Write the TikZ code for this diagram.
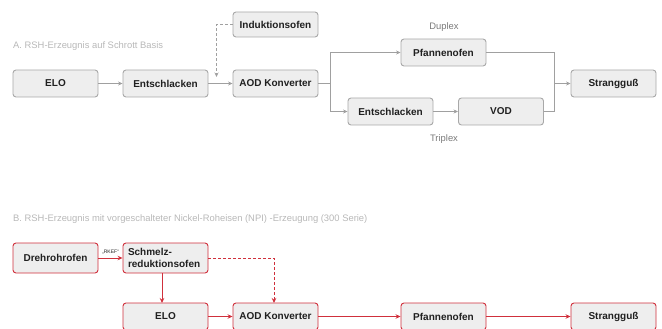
\documentclass[tikz,border=0pt]{standalone}
\usepackage{fontspec}
\setmainfont{Liberation Sans}
\usetikzlibrary{arrows.meta}
\definecolor{boxfill}{HTML}{EEEEEE}
\definecolor{boxgray}{HTML}{A8A8A8}
\definecolor{linegray}{HTML}{A0A0A0}
\definecolor{redline}{HTML}{D0303C}
\definecolor{captiongray}{HTML}{B8B8B8}
\definecolor{labelgray}{HTML}{7A7A7A}
\definecolor{txt}{HTML}{202020}
\tikzset{
  gbox/.style={draw=boxgray, fill=boxfill, rounded corners=3pt, line width=0.9pt,
    minimum width=85pt, minimum height=27pt, inner sep=0pt,
    font=\fontsize{10}{12}\selectfont\bfseries, text=txt},
  rbox/.style={gbox, draw=redline},
  garr/.style={draw=linegray, line width=0.9pt, -{Stealth[length=4.5pt,width=4pt]}},
  gline/.style={draw=linegray, line width=0.9pt},
  rarr/.style={draw=redline, line width=1pt, -{Stealth[length=5pt,width=4.5pt]}},
  rline/.style={draw=redline, line width=1pt},
  caption/.style={font=\fontsize{9.4}{11}\selectfont, text=captiongray, anchor=west, inner sep=0pt},
  pathlabel/.style={font=\fontsize{9.4}{11}\selectfont, text=labelgray, inner sep=0pt},
}
\begin{document}
\begin{tikzpicture}[x=1pt,y=-1pt]
\useasboundingbox (0,0) rectangle (662,329);
% Section A
\node[caption] (capA) at (13,46) {A. RSH-Erzeugnis auf Schrott Basis};
\node[gbox] (eloA) at (55.5,83.5) {ELO};
\node[gbox] (entA) at (165.5,83.5) {Entschlacken};
\node[gbox] (aodA) at (275.5,83.5) {AOD Konverter};
\node[gbox, minimum height=25pt] (ind) at (275.5,24.5) {Induktionsofen};
\node[gbox] (pfoA) at (443.5,52.5) {Pfannenofen};
\node[gbox] (entB) at (390.5,111.5) {Entschlacken};
\node[gbox] (vod) at (501,111.5) {VOD};
\node[gbox] (strA) at (613.5,83.5) {Strangguß};
\node[pathlabel] (duplex) at (444,27.5) {Duplex};
\node[pathlabel] (triplex) at (444,139.5) {Triplex};

\draw[garr] (eloA) -- (entA);
\draw[garr] (entA) -- (aodA);
\coordinate (indend) at (216.5,77);
\draw[garr, dash pattern=on 3pt off 2pt] (ind.west) -| (indend);
\coordinate (split) at (330,83.5);
\draw[gline] (aodA) -- (split);
\draw[garr] (split) |- (pfoA);
\draw[garr] (split) |- (entB);
\draw[garr] (entB) -- (vod);
\coordinate (merge) at (554,83.5);
\draw[gline] (pfoA) -| (merge);
\draw[gline] (vod) -| (merge);
\draw[garr] (merge) -- (strA);

% Section B
\node[caption] (capB) at (13,219) {B. RSH-Erzeugnis mit vorgeschalteter Nickel-Roheisen (NPI) -Erzeugung (300 Serie)};
\node[rbox, minimum height=30pt] (dreh) at (55.5,258) {Drehrohrofen};
\node[rbox, minimum height=30pt, text width=75pt, align=left, font=\fontsize{10}{12}\selectfont\bfseries] (schm) at (165.5,258) {Schmelz-\\reduktionsofen};
\node[rbox] (eloB) at (165.5,316.5) {ELO};
\node[rbox] (aodB) at (275.5,316.5) {AOD Konverter};
\node[rbox] (pfoB) at (443.5,316.5) {Pfannenofen};
\node[rbox] (strB) at (613.5,316.5) {Strangguß};

\draw[rarr] (dreh) -- node[above=3pt, font=\fontsize{5}{6}\selectfont, text=txt, inner sep=0pt] (rkef) {„RKEF“} (schm);
\coordinate (schmdown) at (162,273);
\coordinate (elotop) at (162,303);
\draw[rarr] (schmdown) -- (elotop);
\coordinate (aodtop) at (274,303);
\draw[rarr, dash pattern=on 3pt off 2pt] (schm.east) -| (aodtop);
\draw[rarr] (eloB) -- (aodB);
\draw[rarr] (aodB) -- (pfoB);
\draw[rarr] (pfoB) -- (strB);
\end{tikzpicture}
\end{document}
